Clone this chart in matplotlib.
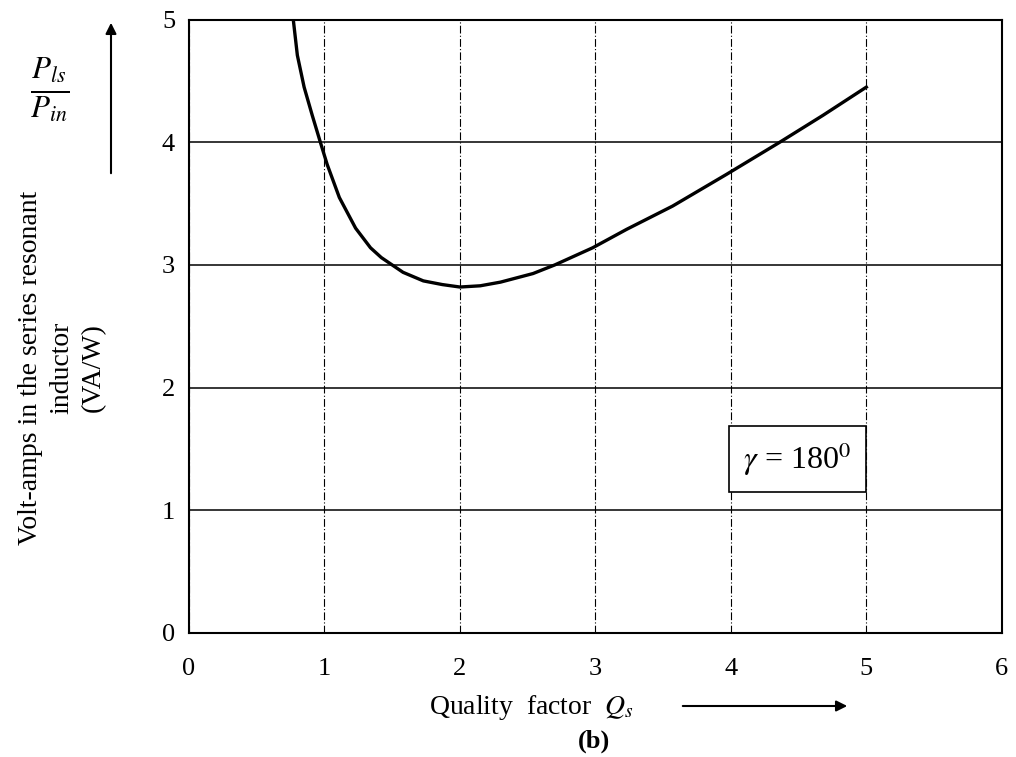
import matplotlib
matplotlib.use("Agg")
import matplotlib.pyplot as plt

plt.rcParams['font.family'] = ['Liberation Serif', 'DejaVu Serif']
plt.rcParams['mathtext.fontset'] = 'stix'

# curve
q_s = [0.77, 0.80, 0.85, 0.91, 0.97, 1.02, 1.11, 1.23, 1.34, 1.42, 1.50, 1.58, 1.73, 1.87, 2.00,
       2.15, 2.30, 2.54, 2.70, 2.98, 3.23, 3.57, 3.97, 4.27, 4.36, 4.68, 5.00]
va_per_w = [5.00, 4.71, 4.45, 4.22, 4.00, 3.82, 3.55, 3.30, 3.14, 3.06, 3.00, 2.94, 2.87, 2.84, 2.82,
            2.83, 2.86, 2.93, 3.00, 3.14, 3.29, 3.48, 3.74, 3.94, 4.00, 4.22, 4.45]

x_ticks = [0, 1, 2, 3, 4, 5, 6]
y_ticks = [0, 1, 2, 3, 4, 5]

fig = plt.figure(figsize=(10.16, 7.57), dpi=100)
ax = fig.add_axes([0.186, 0.164, 0.800, 0.810])

ax.plot(q_s, va_per_w, color='black', lw=2.4, solid_joinstyle='round')

ax.set_xlim(0, 6)
ax.set_ylim(0, 5)
ax.set_xticks(x_ticks)
ax.set_yticks(y_ticks)
ax.tick_params(axis='both', length=0, labelsize=19)
ax.tick_params(axis='x', pad=18)
ax.tick_params(axis='y', pad=10)

ax.yaxis.grid(True, color='black', ls='-', lw=1.1)
ax.xaxis.grid(True, color='black', ls=(0, (7, 2, 1, 2)), lw=0.8)
for s in ax.spines.values():
    s.set_linewidth(1.5)

# gamma box
ax.text(4.49, 1.42, r'$\gamma$ = 180$^{0}$', fontsize=23, ha='center', va='center',
        bbox=dict(boxstyle='square,pad=0.45', fc='white', ec='black', lw=1.2))

# y label and ratio
fig.text(62 / 1016, 1 - 368 / 757, 'Volt-amps in the series resonant\ninductor\n(VA/W)',
         rotation=90, ha='center', va='center', fontsize=20, linespacing=1.35)
fig.text(50 / 1016, 1 - 90 / 757, r'$\frac{P_{ls}}{P_{in}}$', fontsize=32,
         ha='center', va='center')
fig.add_artist(matplotlib.patches.FancyArrowPatch(
    (111 / 1016, 1 - 176 / 757), (111 / 1016, 1 - 20 / 757), transform=fig.transFigure,
    arrowstyle='-|>', mutation_scale=16, color='black', lw=1.5))

# x label
fig.text(531 / 1016, 1 - 707 / 757, r'Quality  factor  $Q_s$', fontsize=20,
         ha='center', va='center')
fig.add_artist(matplotlib.patches.FancyArrowPatch(
    (680 / 1016, 1 - 706 / 757), (850 / 1016, 1 - 706 / 757), transform=fig.transFigure,
    arrowstyle='-|>', mutation_scale=16, color='black', lw=1.5))
fig.text(594 / 1016, 1 - 741 / 757, '(b)', fontsize=19, fontweight='bold',
         ha='center', va='center')

fig.savefig('out.png', dpi=100)
